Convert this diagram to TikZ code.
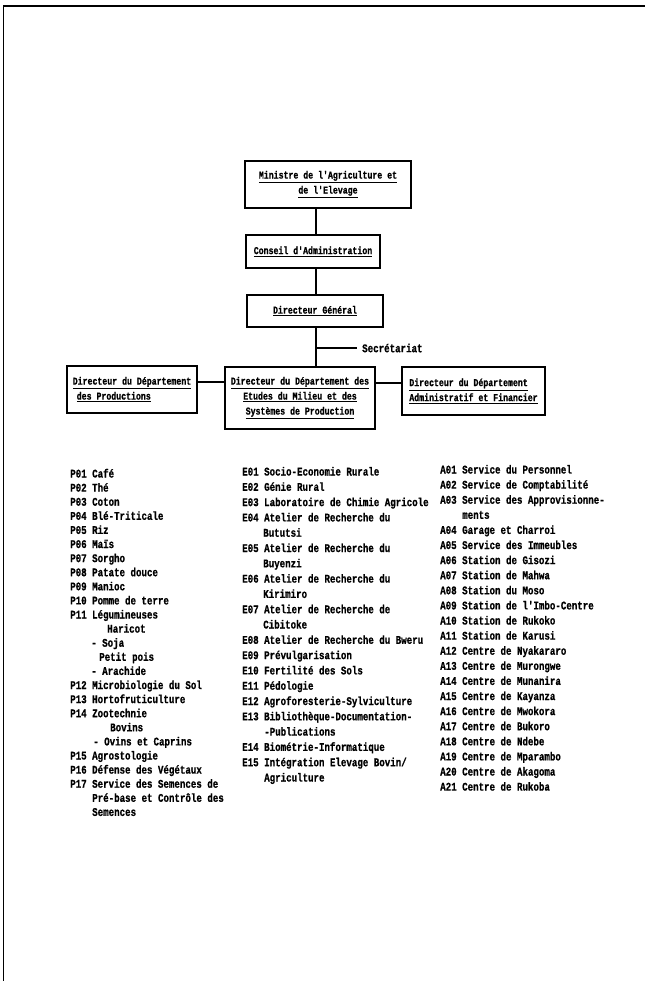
\documentclass[tikz,border=0pt]{standalone}
\usepackage{fontspec}
\setmonofont[FakeStretch=0.78, BoldFeatures={FakeBold=0.8}]{Liberation Mono}
\newcommand\boxfont{\ttfamily\bfseries\fontsize{9}{12.8}\selectfont}
\newcommand\ul[1]{\underline{#1}}
\tikzset{
  unitbox/.style={draw, line width=1.4pt, inner sep=0pt, align=center, font=\boxfont},
  link/.style={line width=0.9pt},
  frame/.style={line width=1.2pt},
  listline/.style={anchor=base west, inner sep=0pt, font=\ttfamily\bfseries\fontsize{10}{12}\selectfont}
}
\begin{document}
\begin{tikzpicture}[x=0.03cm,y=-0.03cm]
  \useasboundingbox (0,0) rectangle (645,981);
  \draw[frame] (645,6) -- (3.5,6) -- (3.5,981);
  % organigramme
  \node[unitbox, minimum width=4.98cm, minimum height=1.41cm] (ministre) at (328,184.5)
    {\ul{Ministre de l'Agriculture et}\\ \ul{de l'Elevage}};
  \node[unitbox, minimum width=4.02cm, minimum height=0.99cm] (conseil) at (313,251.5)
    {\ul{Conseil d'Administration}};
  \node[unitbox, minimum width=4.08cm, minimum height=0.96cm] (dg) at (315,311)
    {\ul{Directeur Général}};
  \node[unitbox, align=left, minimum width=3.9cm, minimum height=1.41cm] (prod) at (132,389.5)
    {\ul{Directeur du Département}\\ \hspace*{0.12cm}\ul{des Productions}};
  \node[unitbox, minimum width=4.5cm, minimum height=1.86cm] (etudes) at (300,398)
    {\ul{Directeur du Département des}\\ \ul{Etudes du Milieu et des}\\ \ul{Systèmes de Production}};
  \node[unitbox, align=left, minimum width=4.29cm, minimum height=1.44cm] (admin) at (473.5,391)
    {\ul{Directeur du Département}\\ \ul{Administratif et Financier}};
  \node[listline, anchor=west, inner xsep=0.15cm] (sec) at (357,348) {Secrétariat};
  \coordinate (spine) at (316,0);
  \draw[link] (ministre.south -| spine) -- (conseil.north -| spine);
  \draw[link] (conseil.south -| spine) -- (dg.north -| spine);
  \draw[link] (dg.south -| spine) -- (etudes.north -| spine);
  \draw[link] (spine |- sec.west) -- (sec.west);
  \draw[link] (prod.east |- 0,382) -- (etudes.west |- 0,382);
  \draw[link] (etudes.east |- 0,383) -- (admin.west |- 0,383);
  % productions
  \foreach \txt [count=\i from 0] in {P01 Café, P02 Thé, P03 Coton, P04 Blé-Triticale, P05 Riz,
      P06 Maïs, P07 Sorgho, P08 Patate douce, P09 Manioc, P10 Pomme de terre, P11 Légumineuses,
      \hspace*{1.11cm}Haricot, \hspace*{0.63cm}- Soja, \hspace*{0.87cm}Petit pois,
      \hspace*{0.63cm}- Arachide, P12 Microbiologie du Sol, P13 Hortofruticulture,
      P14 Zootechnie, \hspace*{1.2cm}Bovins, \hspace*{0.69cm}- Ovins et Caprins,
      P15 Agrostologie, P16 Défense des Végétaux, P17 Service des Semences de,
      \hspace*{0.66cm}Pré-base et Contrôle des, \hspace*{0.66cm}Semences}
    \node[listline] (p\i) at (70,477.5+14.1*\i) {\txt};
  % etudes du milieu
  \foreach \txt [count=\i from 0] in {E01 Socio-Economie Rurale, E02 Génie Rural,
      E03 Laboratoire de Chimie Agricole, E04 Atelier de Recherche du, \hspace*{0.63cm}Bututsi,
      E05 Atelier de Recherche du, \hspace*{0.63cm}Buyenzi, E06 Atelier de Recherche du,
      \hspace*{0.63cm}Kirimiro, E07 Atelier de Recherche de, \hspace*{0.63cm}Cibitoke,
      E08 Atelier de Recherche du Bweru, E09 Prévulgarisation, E10 Fertilité des Sols,
      E11 Pédologie, E12 Agroforesterie-Sylviculture, E13 Bibliothèque-Documentation-,
      \hspace*{0.66cm}-Publications, E14 Biométrie-Informatique,
      E15 Intégration Elevage Bovin/, \hspace*{0.66cm}Agriculture}
    \node[listline] (e\i) at (242,475.5+15.3*\i) {\txt};
  % administratif et financier
  \foreach \txt [count=\i from 0] in {A01 Service du Personnel, A02 Service de Comptabilité,
      A03 Service des Approvisionne-, \hspace*{0.66cm}ments, A04 Garage et Charroi,
      A05 Service des Immeubles, A06 Station de Gisozi, A07 Station de Mahwa,
      A08 Station du Moso, A09 Station de l'Imbo-Centre, A10 Station de Rukoko,
      A11 Station de Karusi, A12 Centre de Nyakararo, A13 Centre de Murongwe,
      A14 Centre de Munanira, A15 Centre de Kayanza, A16 Centre de Mwokora,
      A17 Centre de Bukoro, A18 Centre de Ndebe, A19 Centre de Mparambo,
      A20 Centre de Akagoma, A21 Centre de Rukoba}
    \node[listline] (a\i) at (440,473.5+15.1*\i) {\txt};
\end{tikzpicture}
\end{document}
